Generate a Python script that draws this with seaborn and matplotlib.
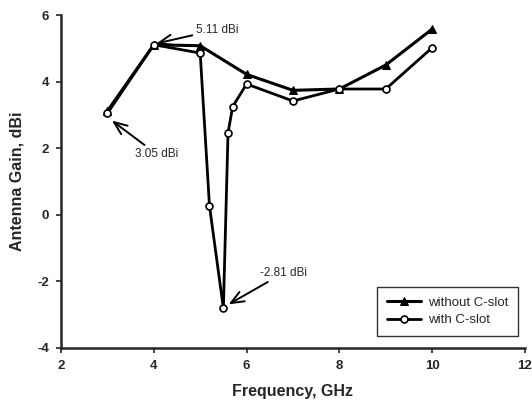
import numpy as np
import pandas as pd
import matplotlib
matplotlib.use('Agg')
import matplotlib.pyplot as plt
import seaborn as sns

# ── DATA ─────────────────────────────────────────────────────────────────────
freq_without = [3, 4, 5, 6, 7, 8, 9, 10]
gain_without = [3.12, 5.11, 5.08, 4.22, 3.74, 3.78, 4.50, 5.58]

freq_with = [3, 4, 5, 5.2, 5.5, 5.6, 5.7, 6, 7, 8, 9, 10]
gain_with = [3.05, 5.11, 4.86, 0.27, -2.81, 2.46, 3.25, 3.93, 3.42, 3.78, 3.78, 5.02]

x_ticks = [2, 4, 6, 8, 10, 12]
y_ticks = [-4, -2, 0, 2, 4, 6]

sns.set_style('ticks')
plt.rcParams['font.family'] = ['Liberation Sans', 'DejaVu Sans']
plt.rcParams['axes.unicode_minus'] = False

fig = plt.figure(figsize=(5.32, 4.03), dpi=100)
ax = fig.add_axes([0.1147, 0.1365, 0.872, 0.826])

df_wo = pd.DataFrame({'f': freq_without, 'g': gain_without})
df_w = pd.DataFrame({'f': freq_with, 'g': gain_with})

sns.lineplot(data=df_wo, x='f', y='g', ax=ax, color='black', lw=2.2,
             marker='^', markersize=5.5, markerfacecolor='black',
             markeredgecolor='black', label='without C-slot', sort=False)
sns.lineplot(data=df_w, x='f', y='g', ax=ax, color='black', lw=2.0,
             marker='o', markersize=5, markerfacecolor='white',
             markeredgecolor='black', markeredgewidth=1.2,
             label='with C-slot', sort=False)

ax.set_xlim(2, 12)
ax.set_ylim(-4, 6)
ax.set_xticks(x_ticks)
ax.set_yticks(y_ticks)
ax.tick_params(direction='out', length=3.5, width=1.2, labelsize=9.5, pad=5)
for lab in ax.get_xticklabels() + ax.get_yticklabels():
    lab.set_fontweight('bold')
sns.despine(ax=ax)
ax.spines['left'].set_linewidth(1.8)
ax.spines['bottom'].set_linewidth(1.8)

ax.set_xlabel('Frequency, GHz', fontsize=11.5, fontweight='bold', labelpad=9)
ax.set_ylabel('Antenna Gain, dBi', fontsize=11.5, fontweight='bold', labelpad=9)

arrow = dict(arrowstyle='->,head_length=1.1,head_width=0.45', color='black',
             lw=1.4, shrinkA=0, shrinkB=2)
ax.annotate('5.11 dBi', xy=(4.0, 5.13), xytext=(4.9, 5.56), fontsize=8.5,
            va='center', ha='left', arrowprops=arrow, annotation_clip=False)
ax.annotate('3.05 dBi', xy=(3.05, 2.88), xytext=(3.6, 1.82), fontsize=8.5,
            va='center', ha='left', arrowprops=arrow)
ax.annotate('-2.81 dBi', xy=(5.56, -2.73), xytext=(6.3, -1.74), fontsize=8.5,
            va='center', ha='left', arrowprops=arrow)

leg = ax.legend(loc='lower right', bbox_to_anchor=(0.985, 0.035), fontsize=9.5,
                frameon=True, fancybox=False, handlelength=2.6,
                borderpad=0.75, labelspacing=0.4, handletextpad=0.5,
                borderaxespad=0)
leg.get_frame().set_edgecolor('black')
leg.get_frame().set_linewidth(1.0)

plt.savefig('out.png', dpi=100)
